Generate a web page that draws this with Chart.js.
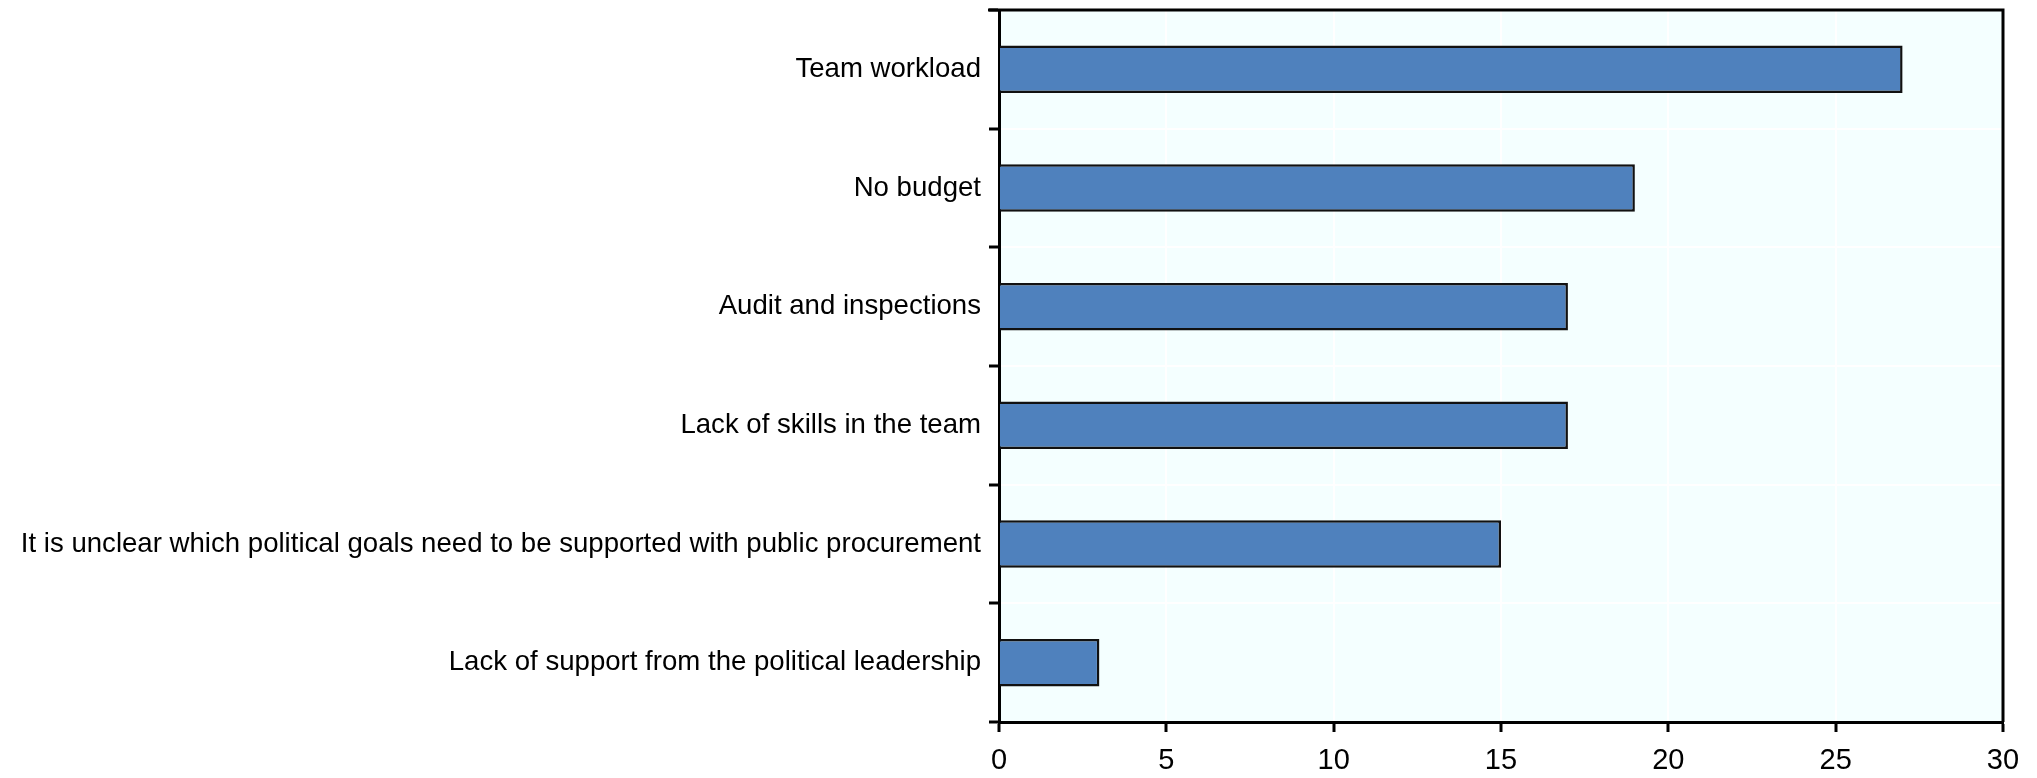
<!DOCTYPE html>
<html>
<head>
<meta charset="utf-8">
<script src="https://cdn.jsdelivr.net/npm/chart.js@4/dist/chart.umd.min.js"></script>
<style>
  html, body { margin: 0; padding: 0; background: #fff; }
  #wrap { width: 2037px; height: 778px; }
</style>
</head>
<body>
<div id="wrap"><canvas id="chart"></canvas></div>
<script>
var categories = [
  "Team workload",
  "No budget",
  "Audit and inspections",
  "Lack of skills in the team",
  "It is unclear which political goals need to be supported with public procurement",
  "Lack of support from the political leadership"
];
var values = [27, 19, 17, 17, 15, 3];
var xTicks = [0, 5, 10, 15, 20, 25, 30];

var FONT = "'Liberation Sans Narrow', 'Arial Narrow', 'Liberation Sans', Arial, sans-serif";

// fond bleu clair + cadre haut/droite
var frame = {
  id: 'frame',
  beforeDraw: function(chart) {
    var a = chart.chartArea, c = chart.ctx;
    c.save();
    c.fillStyle = '#F4FFFF';
    c.fillRect(a.left, a.top, a.right - a.left, a.bottom - a.top);
    c.restore();
  },
  afterDraw: function(chart) {
    var a = chart.chartArea, c = chart.ctx;
    c.save();
    c.strokeStyle = '#000';
    c.lineWidth = 3;
    c.beginPath();
    c.moveTo(a.left - 11, a.top);
    c.lineTo(a.right, a.top);
    c.lineTo(a.right, a.bottom);
    c.stroke();
    c.restore();
  }
};

var ctx = document.getElementById("chart");
var chartGraph = new Chart(ctx, {
  type: 'bar',
  data: {
    labels: categories,
    datasets: [{
      data: values,
      backgroundColor: '#4F81BD',
      borderColor: '#111',
      borderWidth: 2.5,
      barPercentage: 0.4,
      categoryPercentage: 1
    }]
  },
  options: {
    indexAxis: 'y',
    responsive: true,
    maintainAspectRatio: false,
    animation: false,
    layout: { padding: { left: 0, right: 34, top: 10, bottom: 0 } },
    plugins: { legend: { display: false }, tooltip: { enabled: false } },
    scales: {
      x: {
        min: 0,
        max: 30,
        afterBuildTicks: function(scale) {
          scale.ticks = xTicks.map(function(v) { return { value: v }; });
        },
        afterFit: function(scale) { scale.height = 56; },
        grid: { color: '#FFFFFF', lineWidth: 2, tickColor: '#000', tickLength: 10, tickWidth: 3 },
        border: { display: true, color: '#000', width: 3 },
        ticks: { color: '#000', padding: 12, font: { family: FONT, size: 29 }, maxRotation: 0 }
      },
      y: {
        afterFit: function(scale) {
          scale.width = 999;
          scale.paddingTop = 0;
          scale.paddingBottom = 0;
        },
        grid: { color: '#FFFFFF', lineWidth: 2, tickColor: '#000', tickLength: 10, tickWidth: 3, offset: true },
        border: { display: true, color: '#000', width: 3 },
        ticks: { color: '#000', padding: 8, font: { family: FONT, size: 27.6 }, autoSkip: false }
      }
    }
  },
  plugins: [frame]
});
</script>
</body>
</html>
